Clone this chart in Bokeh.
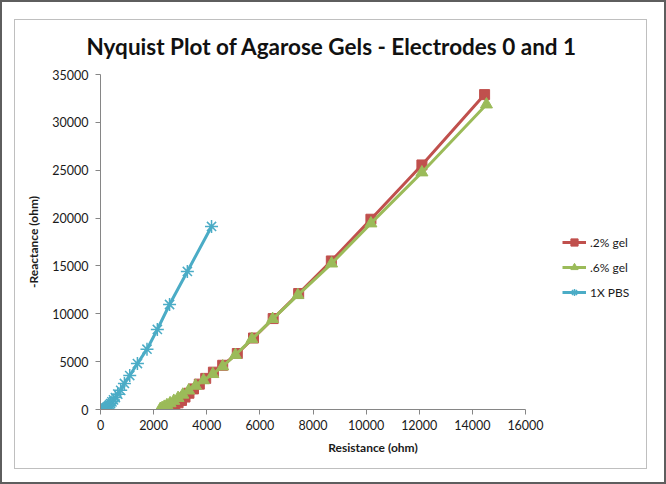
from bokeh.plotting import figure
from bokeh.models import (Range1d, SingleIntervalTicker, Legend, LegendItem,
                          ColumnDataSource)
from bokeh.embed import file_html
from bokeh.resources import INLINE

# ---- data ----
gel02_x = [2600, 2700, 2800, 2920, 3050, 3180, 3330, 3500, 3720, 3960, 4250,
           4600, 5150, 5760, 6500, 7460, 8690, 10180, 12100, 14460]
gel02_y = [100, 250, 450, 700, 950, 1300, 1700, 2150, 2650, 3250, 3900,
           4620, 5850, 7470, 9500, 12120, 15520, 19880, 25550, 32900]

gel06_x = [2250, 2320, 2400, 2500, 2620, 2760, 2920, 3100, 3320, 3580, 3880,
           4230, 4600, 5080, 5700, 6480, 7430, 8700, 10180, 12100, 14530]
gel06_y = [50, 150, 280, 450, 650, 900, 1200, 1550, 1980, 2480, 3050,
           3700, 4500, 5700, 7350, 9450, 11950, 15250, 19440, 24770, 31870]

pbs_x = [4180, 3270, 2600, 2140, 1750, 1390, 1100, 900, 760, 650, 560, 490,
         430, 380, 340, 300, 260, 230, 200, 170, 140]
pbs_y = [19120, 14420, 10970, 8360, 6300, 4800, 3550, 2720, 2000, 1600, 1250,
         1000, 800, 620, 480, 370, 280, 200, 140, 90, 50]

series_names = [".2% gel", ".6% gel", "1X PBS"]
title_text = "Nyquist Plot of Agarose Gels - Electrodes 0 and 1"
x_label = "Resistance (ohm)"
y_label = "-Reactance (ohm)"
x_axis_max = 16000
y_axis_max = 35000

RED = "#C0504D"
GREEN = "#9BBB59"
BLUE = "#4BACC6"
FONT = "Lato"

W, H = 666, 484
FL, FR, FT, FB = 100, 525, 74, 409   # plot-area edges on the page
CANVAS_R = 645                       # drawing area reaches the legend

x_end = x_axis_max * (CANVAS_R - FL) / (FR - FL)
p = figure(width=W, height=H, output_backend="svg", toolbar_location=None,
           x_range=Range1d(0, x_end), y_range=Range1d(0, y_axis_max),
           min_border_left=FL, min_border_right=W - CANVAS_R,
           min_border_top=FT, min_border_bottom=H - FB)
p.outline_line_color = None
p.xgrid.visible = False
p.ygrid.visible = False
p.background_fill_color = None
p.border_fill_color = None

# chart-area frames (dark outer edge, light grey inner chart border)
g = "linear-gradient(#BFBFBF,#BFBFBF)"
p.styles = {
    "background": (f"{g} 14px 19px / 633px 1px no-repeat, "
                   f"{g} 14px 468px / 633px 1px no-repeat, "
                   f"{g} 14px 19px / 1px 450px no-repeat, "
                   f"{g} 646px 19px / 1px 450px no-repeat, white"),
    "box-shadow": "inset 0 0 0 2px #5E5E5E",
}

p.title.text = title_text
p.title.align = "left"
p.title.offset = -14
p.title.standoff = 29
p.title.text_font = FONT
p.title.text_font_size = "22.5px"
p.title.text_font_style = "bold"
p.title.text_color = "#111111"

p.xaxis.ticker = SingleIntervalTicker(interval=2000)
p.yaxis.ticker = SingleIntervalTicker(interval=5000)
p.xaxis.bounds = (0, x_axis_max)
for ax in (p.xaxis, p.yaxis):
    ax.axis_line_color = "#868686"
    ax.major_tick_line_color = "#868686"
    ax.major_tick_in = 0
    ax.major_tick_out = 5
    ax.minor_tick_line_color = None
    ax.major_label_text_font = FONT
    ax.major_label_text_font_size = "12.5px"
    ax.major_label_text_color = "#1a1a1a"
    ax.axis_label_text_font = FONT
    ax.axis_label_text_font_size = "12px"
    ax.axis_label_text_font_style = "bold"
    ax.axis_label_text_color = "#1a1a1a"
p.xaxis.major_label_standoff = 5
p.yaxis.major_label_standoff = 7
p.xaxis.axis_label = x_label
p.yaxis.axis_label = y_label
p.xaxis.axis_label_standoff = 7
p.yaxis.axis_label_standoff = 8

src02 = ColumnDataSource(dict(x=gel02_x, y=gel02_y))
src06 = ColumnDataSource(dict(x=gel06_x, y=gel06_y))
srcpbs = ColumnDataSource(dict(x=pbs_x, y=pbs_y))

l1 = p.line("x", "y", source=src02, line_color=RED, line_width=3)
m1 = p.scatter("x", "y", source=src02, marker="square", size=10,
               fill_color=RED, line_color=RED)
l2 = p.line("x", "y", source=src06, line_color=GREEN, line_width=3)
m2 = p.scatter("x", "y", source=src06, marker="triangle", size=12,
               fill_color=GREEN, line_color=GREEN)
l3 = p.line("x", "y", source=srcpbs, line_color=BLUE, line_width=3)
m3 = p.scatter("x", "y", source=srcpbs, marker="asterisk", size=13,
               line_color=BLUE, line_width=1.5)

legend = Legend(items=[LegendItem(label=series_names[0], renderers=[l1, m1]),
                       LegendItem(label=series_names[1], renderers=[l2, m2]),
                       LegendItem(label=series_names[2], renderers=[l3, m3])],
                location=(562 - FL, 108), border_line_color=None,
                background_fill_alpha=0, label_text_font=FONT,
                label_text_font_size="12px", label_text_color="#1a1a1a",
                glyph_width=24, glyph_height=18, label_height=18,
                spacing=7, padding=0, label_standoff=4, margin=0)
p.add_layout(legend, "center")

open("out.html", "w").write(file_html(p, INLINE))
